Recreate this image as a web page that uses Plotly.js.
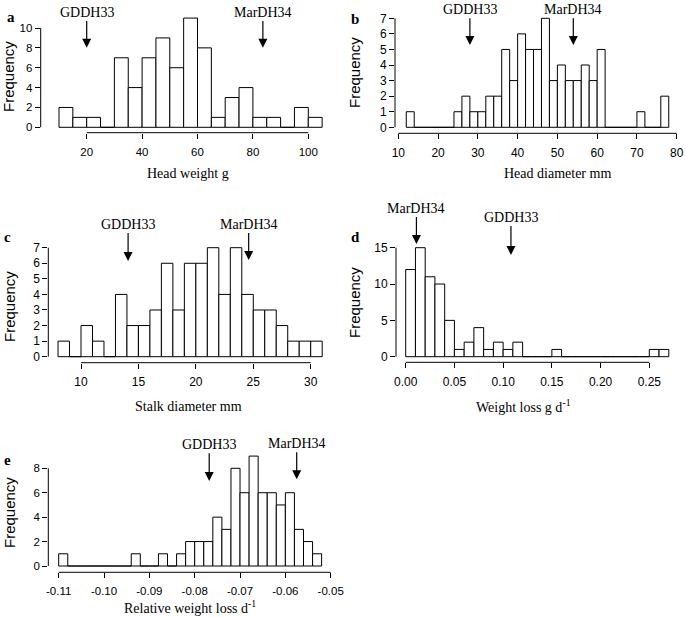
<!DOCTYPE html>
<html>
<head>
<meta charset="utf-8">
<script src="https://cdn.plot.ly/plotly-3.0.1.min.js"></script>
<style>html,body{margin:0;padding:0;background:#fff;}#chart{width:685px;height:617px;}</style>
</head>
<body>
<div id="chart"></div>
<script>
// ---------- DATA ----------
// a: head weight (g), bins of 5 starting at 10
const headWeightStart = 10, headWeightBin = 5;
const headWeightCounts = [2,1,1,0,7,4,7,9,6,11,8,1,3,4,1,1,0,2,1];
const headWeightTicks = [20,40,60,80,100];
const headWeightYTicks = [0,2,4,6,8,10];
const headWeightMarkers = {GDDH33: 20, MarDH34: 83.6};

// b: head diameter (mm), bins of 2 starting at 12
const headDiamStart = 12, headDiamBin = 2;
const headDiamCounts = [1,0,0,0,0,0,1,2,1,1,2,2,5,3,6,5,5,7,3,4,3,3,4,3,5,0,0,0,0,1,0,0,2];
const headDiamTicks = [10,20,30,40,50,60,70,80];
const headDiamYTicks = [0,1,2,3,4,5,6,7];
const headDiamMarkers = {GDDH33: 28, MarDH34: 54};

// c: stalk diameter (mm), bins of 1 starting at 8
const stalkStart = 8, stalkBin = 1;
const stalkCounts = [1,0,2,1,0,4,2,2,3,6,3,6,6,7,4,7,4,3,3,2,1,1,1];
const stalkTicks = [10,15,20,25,30];
const stalkYTicks = [0,1,2,3,4,5,6,7];
const stalkMarkers = {GDDH33: 14.1, MarDH34: 24.6};

// d: weight loss (g/d), bins of 0.01 starting at 0
const lossStart = 0, lossBin = 0.01;
const lossCounts = [12,15,11,10,5,1,2,4,1,2,1,2,0,0,0,1,0,0,0,0,0,0,0,0,0,1,1];
const lossTicks = [0,0.05,0.10,0.15,0.20,0.25];
const lossTickText = ['0.00','0.05','0.10','0.15','0.20','0.25'];
const lossYTicks = [0,5,10,15];
const lossMarkers = {MarDH34: 0.011, GDDH33: 0.108};

// e: relative weight loss (1/d), bins of 0.002 starting at -0.11
const relStart = -0.11, relBin = 0.002;
const relCounts = [1,0,0,0,0,0,0,0,1,0,0,1,0,1,2,2,2,4,3,8,6,9,6,6,5,6,3,2,1];
const relTicks = [-0.11,-0.10,-0.09,-0.08,-0.07,-0.06,-0.05];
const relTickText = ['-0.11','-0.10','-0.09','-0.08','-0.07','-0.06','-0.05'];
const relYTicks = [0,2,4,6,8];
const relMarkers = {GDDH33: -0.0768, MarDH34: -0.0575};

// ---------- LAYOUT ----------
const W = 685, H = 617;
const px2x = p => p / W;
const px2y = p => 1 - p / H;
function invCal(v1, p1, v2, p2) { const k = (p2 - p1) / (v2 - v1); return p => v1 + (p - p1) / k; }

const serif = 'Liberation Serif, Times New Roman, serif';
const sans = 'Liberation Sans, Arial, sans-serif';

const panels = [
  {letter:'a', start:headWeightStart, bin:headWeightBin, counts:headWeightCounts, xt:headWeightTicks, xtt:null, yt:headWeightYTicks,
   markers:headWeightMarkers, title:'Head weight g', fs:11.5,
   xcal:[20,86.7,100,308.3], xpx:[40.7,326], ycal:[0,127.3,10,28], ypx:[132.7,8],
   tips:{GDDH33:[47.7,12], MarDH34:[47.7,12]}, letterPx:[11,17], titlePx:[188,173], freqPx:[9,77]},
  {letter:'b', start:headDiamStart, bin:headDiamBin, counts:headDiamCounts, xt:headDiamTicks, xtt:null, yt:headDiamYTicks,
   markers:headDiamMarkers, title:'Head diameter mm', fs:12,
   xcal:[10,398.3,80,676.7], xpx:[395,682], ycal:[0,127.3,7,18.3], ypx:[133.3,5],
   tips:{GDDH33:[45,9.3], MarDH34:[45,9.3]}, letterPx:[355,19], titlePx:[557,173], freqPx:[354,73]},
  {letter:'c', start:stalkStart, bin:stalkBin, counts:stalkCounts, xt:stalkTicks, xtt:null, yt:stalkYTicks,
   markers:stalkMarkers, title:'Stalk diameter mm', fs:12,
   xcal:[10,81,30,310.7], xpx:[48.3,326], ycal:[0,356.7,7,247.7], ypx:[362.7,225],
   tips:{GDDH33:[261,224], MarDH34:[260,224]}, letterPx:[8,237], titlePx:[188,406], freqPx:[9,307]},
  {letter:'d', start:lossStart, bin:lossBin, counts:lossCounts, xt:lossTicks, xtt:lossTickText, yt:lossYTicks,
   markers:lossMarkers, title:'Weight loss g d<sup>-1</sup>', fs:12,
   xcal:[0,405.7,0.25,649.3], xpx:[396,682], ycal:[0,356.7,15,247.7], ypx:[362.3,225],
   tips:{MarDH34:[244,208], GDDH33:[255,217]}, letterPx:[355,237], titlePx:[523,406], freqPx:[354,303]},
  {letter:'e', start:relStart, bin:relBin, counts:relCounts, xt:relTicks, xtt:relTickText, yt:relYTicks,
   markers:relMarkers, title:'Relative weight loss d<sup>-1</sup>', fs:11.5,
   xcal:[-0.11,58.7,-0.05,330.7], xpx:[48.3,336], ycal:[0,566,8,468.3], ypx:[572.3,440],
   tips:{GDDH33:[481,444.3], MarDH34:[479.3,443.3]}, letterPx:[8,460], titlePx:[190,607], freqPx:[9,513]}
];

const data = [];
const layout = {
  width: W, height: H,
  margin: {l:0, r:0, t:0, b:0},
  paper_bgcolor: '#fff', plot_bgcolor: 'rgba(0,0,0,0)',
  showlegend: false,
  shapes: [], annotations: [],
  font: {family: sans, color: '#000'}
};

panels.forEach((p, i) => {
  const n = i + 1;
  const xa = 'xaxis' + (n === 1 ? '' : n), ya = 'yaxis' + (n === 1 ? '' : n);
  const xr = 'x' + (n === 1 ? '' : n), yr = 'y' + (n === 1 ? '' : n);
  const fx = invCal(...p.xcal), fy = invCal(...p.ycal);

  data.push({
    type: 'bar', xaxis: xr, yaxis: yr,
    x: p.counts.map((c, k) => p.start + (k + 0.5) * p.bin),
    y: p.counts,
    width: p.counts.map(() => p.bin),
    marker: {color: '#fff', line: {color: '#000', width: 1}},
    hoverinfo: 'x+y'
  });

  const tickfont = {family: sans, size: p.fs, color: '#000'};
  layout[xa] = {
    domain: [px2x(p.xpx[0]), px2x(p.xpx[1])],
    range: [fx(p.xpx[0]), fx(p.xpx[1])],
    anchor: yr, showgrid: false, zeroline: false, showline: false,
    ticks: 'outside', ticklen: 5, tickwidth: 1, tickcolor: '#000',
    ticklabelstandoff: 3,
    tickmode: 'array', tickvals: p.xt, ticktext: p.xtt || p.xt.map(String),
    tickfont: tickfont, fixedrange: true
  };
  layout[ya] = {
    domain: [px2y(p.ypx[0]), px2y(p.ypx[1])],
    range: [fy(p.ypx[0]), fy(p.ypx[1])],
    anchor: xr, showgrid: false, zeroline: false, showline: false,
    ticks: 'outside', ticklen: 5, tickwidth: 1, tickcolor: '#000',
    tickmode: 'array', tickvals: p.yt, ticktext: p.yt.map(String),
    tickfont: tickfont, fixedrange: true
  };

  // R-style axis lines spanning first to last tick
  layout.shapes.push({type:'line', xref: xr, yref: yr + ' domain', x0: p.xt[0], x1: p.xt[p.xt.length-1], y0: 0, y1: 0,
    line: {color:'#000', width:1}});
  layout.shapes.push({type:'line', xref: xr + ' domain', yref: yr, x0: 0, x1: 0, y0: p.yt[0], y1: p.yt[p.yt.length-1],
    line: {color:'#000', width:1}});

  // genotype arrows
  Object.keys(p.markers).forEach(name => {
    const t = p.tips[name];
    layout.annotations.push({
      xref: xr, yref: 'paper', x: p.markers[name], y: px2y(t[0]),
      text: name, showarrow: true, arrowhead: 2, arrowsize: 1.5, arrowwidth: 1.2, arrowcolor: '#000',
      ax: 0, ay: t[1] - t[0], standoff: 0,
      font: {family: serif, size: 14, color: '#000'}
    });
  });

  // panel letter
  layout.annotations.push({xref:'paper', yref:'paper', x: px2x(p.letterPx[0]), y: px2y(p.letterPx[1]),
    text: '<b>' + p.letter + '</b>', showarrow: false, xanchor: 'center', yanchor: 'middle',
    font: {family: serif, size: 15, color: '#000'}});
  // x title
  layout.annotations.push({xref:'paper', yref:'paper', x: px2x(p.titlePx[0]), y: px2y(p.titlePx[1]),
    text: p.title, showarrow: false, xanchor: 'center', yanchor: 'middle',
    font: {family: serif, size: 14, color: '#000'}});
  // y title
  layout.annotations.push({xref:'paper', yref:'paper', x: px2x(p.freqPx[0]), y: px2y(p.freqPx[1]),
    text: 'Frequency', showarrow: false, textangle: -90, xanchor: 'center', yanchor: 'middle',
    font: {family: sans, size: 15, color: '#000'}});
});

Plotly.newPlot('chart', data, layout, {displayModeBar: false, staticPlot: true});
</script>
</body>
</html>
